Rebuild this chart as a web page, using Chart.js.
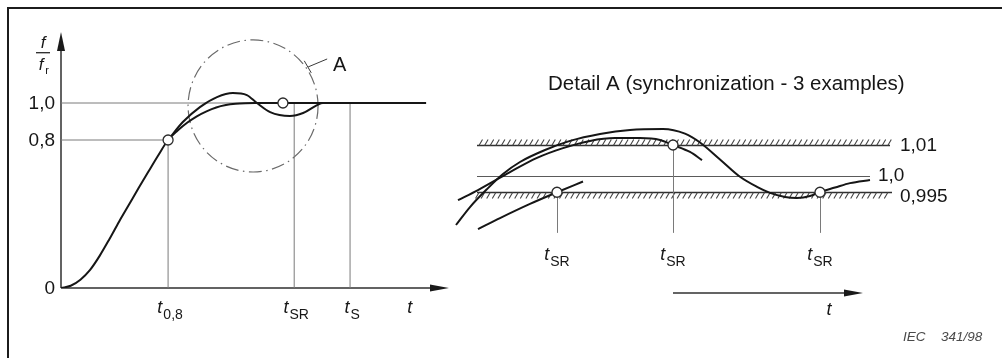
<!DOCTYPE html>
<html>
<head>
<meta charset="utf-8">
<script src="https://cdn.jsdelivr.net/npm/chart.js@4.4.1/dist/chart.umd.min.js"></script>
<style>
  html, body { margin: 0; padding: 0; background: #fff; }
  #wrap { position: relative; width: 1002px; height: 358px; overflow: hidden; }
  #wrap canvas { position: absolute; left: 0; top: 0; }
  #frame { position: absolute; left: 7px; top: 7px; width: 1100px; height: 400px;
           border-left: 2px solid #1c1c1c; border-top: 2px solid #1c1c1c; }
</style>
</head>
<body>
<div id="wrap">
  <div id="frame"></div>
  <canvas id="runup" width="1002" height="358" style="width:1002px;height:358px"></canvas>
  <canvas id="detail" width="1002" height="358" style="width:1002px;height:358px"></canvas>
</div>
<script>
// ---------- Run-up diagram: f/fr against time (time in arbitrary units) ----------
const riseTime = [0, 0.25, 0.5, 0.75, 1.0, 1.25, 1.5, 1.75, 2.0, 2.25, 2.5, 2.76, 3.0, 3.25, 3.5, 3.75, 4.0, 4.25, 4.5, 4.75, 5.0, 9.41];
const riseFreq = [0, 0.012, 0.045, 0.098, 0.175, 0.265, 0.36, 0.45, 0.54, 0.628, 0.715, 0.80, 0.850, 0.893, 0.928, 0.955, 0.976, 0.989, 0.996, 0.999, 1.0, 1.0];
const swingTime = [2.76, 3.14, 3.58, 4.02, 4.43, 4.79, 5.05, 5.39, 5.90, 6.24, 6.60, 6.75, 7.20];
const swingFreq = [0.80, 0.897, 0.978, 1.032, 1.054, 1.043, 1.0, 0.951, 0.930, 0.946, 0.989, 1.0, 1.0];
const freqTicks = [0, 0.8, 1.0];
const freqTickLabels = ['0', '0,8', '1,0'];
const timeMarks = [2.76, 6.01, 7.45];          // t0,8, tSR, tS
const timeMarkSubs = ['0,8', 'SR', 'S'];
const timeMarkTops = [0.8, 1.0, 1.0];
const runupPointTime = [2.76, 5.72];
const runupPointFreq = [0.8, 1.0];

// ---------- Detail A: three synchronization examples ----------
const exampleOneTime = [2.8, 5.0, 8.0, 10.7, 13.3];
const exampleOneFreq = [0.9833, 0.9868, 0.9913, 0.9950, 0.9984];
const exampleTwoTime = [0.8, 2.8, 6.0, 8.7, 11.3, 14.0, 16.5, 19.0, 21.0, 22.3, 24.0, 25.2];
const exampleTwoFreq = [0.9925, 0.9957, 1.0014, 1.0059, 1.0090, 1.0113, 1.0122, 1.0122, 1.0116, 1.0100, 1.0078, 1.0052];
const exampleThreeTime = [0.6, 2.0, 3.7, 5.3, 7.0, 9.5, 12.0, 15.0, 18.0, 21.3, 23.5, 25.0, 27.0, 29.0, 30.7, 32.0, 33.5, 34.7, 36.0, 37.0, 38.5, 40.0, 42.0];
const exampleThreeFreq = [0.9846, 0.9903, 0.9960, 1.0008, 1.0046, 1.0084, 1.0113, 1.0135, 1.0148, 1.0151, 1.0136, 1.0108, 1.0054, 0.9999, 0.9967, 0.9948, 0.9935, 0.9932, 0.9938, 0.9951, 0.9965, 0.9979, 0.9989];
const syncTime = [10.7, 22.3, 37.0];
const syncFreq = [0.995, 1.01, 0.995];
const bandLevels = [1.01, 1.0, 0.995];
const bandLabels = ['1,01', '1,0', '0,995'];
const bandEnds = [44.0, 42.0, 44.2];

const FONT = '"Liberation Sans", Arial, sans-serif';
const INK = '#161616';
const THIN = '#7a7a7a';

const pairs = (xs, ys) => xs.map((x, i) => ({ x, y: ys[i] }));

function curve(label, xs, ys) {
  return { label, data: pairs(xs, ys), borderColor: INK, borderWidth: 2, pointRadius: 0,
           cubicInterpolationMode: 'monotone', fill: false, order: 1 };
}
function guide(label, pts, color, width) {
  return { label, data: pts, borderColor: color || THIN, borderWidth: width || 1, pointRadius: 0,
           tension: 0, fill: false, order: 2 };
}
function points(label, xs, ys) {
  return { label, type: 'scatter', data: pairs(xs, ys), pointRadius: 5, pointHoverRadius: 5,
           pointBackgroundColor: '#fff', pointBorderColor: '#2b2b2b', pointBorderWidth: 1.3,
           showLine: false, order: 0 };
}

// italic t with an upright subscript, centred on cx
function tLabel(ctx, cx, baseY, sub, size) {
  const big = size || 18, small = Math.round(big * 0.78);
  ctx.save();
  ctx.fillStyle = INK;
  ctx.textBaseline = 'alphabetic';
  ctx.font = 'italic ' + big + 'px ' + FONT;
  const wt = ctx.measureText('t').width;
  ctx.font = small + 'px ' + FONT;
  const ws = sub ? ctx.measureText(sub).width : 0;
  const x0 = cx - (wt + ws + (sub ? 1 : 0)) / 2;
  ctx.font = 'italic ' + big + 'px ' + FONT;
  ctx.textAlign = 'left';
  ctx.fillText('t', x0, baseY);
  if (sub) {
    ctx.font = small + 'px ' + FONT;
    ctx.fillText(sub, x0 + wt + 1, baseY + 6);
  }
  ctx.restore();
}

function arrowHead(ctx, tipX, tipY, dirX, dirY, len, half) {
  const bx = tipX - dirX * len, by = tipY - dirY * len;
  ctx.beginPath();
  ctx.moveTo(tipX, tipY);
  ctx.lineTo(bx - dirY * half, by + dirX * half);
  ctx.lineTo(bx + dirY * half, by - dirX * half);
  ctx.closePath();
  ctx.fill();
}

// ---------- run-up chart ----------
const detailCircle = { t: 4.95, f: 0.984, rt: 1.675, rf: 0.357,
                       leader: [6.37, 1.195, 6.86, 1.238], tick: [6.27, 1.228, 6.45, 1.163],
                       label: [7.01, 1.205] };
const axisTitleFreq = 1.275;
const timeLabelFreq = -0.135;
const timeAxisLabel = 8.99;

const runupDecor = {
  id: 'runupDecor',
  beforeDatasetsDraw(chart) {
    const { ctx, scales: { x, y } } = chart;
    ctx.save();
    // axes
    ctx.strokeStyle = '#303030';
    ctx.fillStyle = '#1a1a1a';
    ctx.lineWidth = 1.5;
    ctx.beginPath();
    ctx.moveTo(x.getPixelForValue(0), y.getPixelForValue(0));
    ctx.lineTo(x.getPixelForValue(0), y.getPixelForValue(y.max) + 6);
    ctx.moveTo(x.getPixelForValue(0), y.getPixelForValue(0));
    ctx.lineTo(x.getPixelForValue(x.max) - 6, y.getPixelForValue(0));
    ctx.stroke();
    arrowHead(ctx, x.getPixelForValue(0), y.getPixelForValue(y.max), 0, -1, 19, 4);
    arrowHead(ctx, x.getPixelForValue(x.max), y.getPixelForValue(0), 1, 0, 19, 3.5);

    // detail circle A (dash-dot outline)
    const c = detailCircle;
    const cx = x.getPixelForValue(c.t), cy = y.getPixelForValue(c.f);
    const rx = x.getPixelForValue(c.t + c.rt) - cx, ry = cy - y.getPixelForValue(c.f + c.rf);
    ctx.strokeStyle = '#6a6a6a';
    ctx.lineWidth = 1.2;
    ctx.setLineDash([13, 4.5, 1.5, 4.5]);
    ctx.beginPath();
    ctx.ellipse(cx, cy, rx, ry, 0, 0, Math.PI * 2);
    ctx.stroke();
    ctx.setLineDash([]);
    // leader to the "A" label
    ctx.strokeStyle = '#3a3a3a';
    ctx.lineWidth = 1;
    ctx.beginPath();
    ctx.moveTo(x.getPixelForValue(c.leader[0]), y.getPixelForValue(c.leader[1]));
    ctx.lineTo(x.getPixelForValue(c.leader[2]), y.getPixelForValue(c.leader[3]));
    ctx.moveTo(x.getPixelForValue(c.tick[0]), y.getPixelForValue(c.tick[1]));
    ctx.lineTo(x.getPixelForValue(c.tick[2]), y.getPixelForValue(c.tick[3]));
    ctx.stroke();
    ctx.restore();
  },
  afterDatasetsDraw(chart) {
    const { ctx, scales: { x, y } } = chart;
    ctx.save();
    ctx.fillStyle = INK;
    ctx.font = '19px ' + FONT;
    ctx.textAlign = 'right';
    ctx.textBaseline = 'middle';
    freqTicks.forEach((v, i) => ctx.fillText(freqTickLabels[i], x.getPixelForValue(0) - 6, y.getPixelForValue(v) + 1));

    // axis title f / fr
    const fx = x.getPixelForValue(0) - 18;
    const fy = y.getPixelForValue(axisTitleFreq);
    ctx.textAlign = 'center';
    ctx.textBaseline = 'alphabetic';
    ctx.font = 'italic 17px ' + FONT;
    ctx.fillText('f', fx, fy - 4);
    ctx.fillRect(fx - 7, fy, 14, 1.2);
    ctx.fillText('f', fx - 2, fy + 18);
    ctx.font = '11px ' + FONT;
    ctx.fillText('r', fx + 4, fy + 22);

    // "A" label
    ctx.font = '20px ' + FONT;
    ctx.textAlign = 'left';
    ctx.textBaseline = 'middle';
    ctx.fillText('A', x.getPixelForValue(detailCircle.label[0]), y.getPixelForValue(detailCircle.label[1]));

    // time marks
    const base = y.getPixelForValue(timeLabelFreq);
    timeMarks.forEach((t, i) => tLabel(ctx, x.getPixelForValue(t) + 2, base, timeMarkSubs[i], 18));
    tLabel(ctx, x.getPixelForValue(timeAxisLabel), base, '', 18);
    ctx.restore();
  }
};

const runupData = [
  points('sync points', runupPointTime, runupPointFreq),
  curve('overshooting run-up', swingTime, swingFreq),
  curve('run-up', riseTime, riseFreq),
  guide('0,8 level', [{ x: 0, y: 0.8 }, { x: timeMarks[0], y: 0.8 }]),
  guide('1,0 level', [{ x: 0, y: 1.0 }, { x: 9.41, y: 1.0 }]),
  ...timeMarks.map((t, i) => guide('mark ' + timeMarkSubs[i], [{ x: t, y: 0 }, { x: t, y: timeMarkTops[i] }]))
];

new Chart(document.getElementById('runup'), {
  type: 'line',
  data: { datasets: runupData },
  options: {
    responsive: false,
    animation: false,
    events: [],
    layout: { padding: { left: 61, right: 553, top: 32, bottom: 70 } },
    scales: {
      x: { type: 'linear', min: 0, max: 10, display: false },
      y: { type: 'linear', min: 0, max: 256 / 185, display: false }
    },
    plugins: { legend: { display: false }, tooltip: { enabled: false }, title: { display: false } }
  },
  plugins: [runupDecor]
});

// ---------- detail chart ----------
const bandStart = 2.7;
const dropTo = 0.9821;
const syncLabelFreq = 0.9735;
const arrowSpan = [22.3, 41.3, 0.963];
const arrowLabel = [37.9, 0.9560];

function hatch(ctx, x0, x1, yPix, above) {
  ctx.beginPath();
  for (let px = x0 + 2; px < x1 - 1; px += 5.6) {
    if (above) { ctx.moveTo(px, yPix); ctx.lineTo(px + 3.5, yPix - 6); }
    else { ctx.moveTo(px - 3.5, yPix + 6); ctx.lineTo(px, yPix); }
  }
  ctx.stroke();
}

const detailDecor = {
  id: 'detailDecor',
  beforeDatasetsDraw(chart) {
    const { ctx, scales: { x, y } } = chart;
    ctx.save();
    const xs = x.getPixelForValue(bandStart);
    bandLevels.forEach((lvl, i) => {
      const yp = Math.round(y.getPixelForValue(lvl)) + 0.5;
      const xe = x.getPixelForValue(bandEnds[i]);
      ctx.strokeStyle = i === 1 ? '#5a5a5a' : '#303030';
      ctx.lineWidth = i === 1 ? 1 : 1.3;
      ctx.beginPath();
      ctx.moveTo(xs, yp);
      ctx.lineTo(xe, yp);
      ctx.stroke();
      if (i !== 1) {
        ctx.strokeStyle = '#444';
        ctx.lineWidth = 1.1;
        hatch(ctx, xs, xe, yp, i === 0);
      }
    });
    // drop lines from the synchronization points
    ctx.strokeStyle = THIN;
    ctx.lineWidth = 1;
    syncTime.forEach((t, i) => {
      const xp = Math.round(x.getPixelForValue(t)) + 0.5;
      ctx.beginPath();
      ctx.moveTo(xp, y.getPixelForValue(syncFreq[i]));
      ctx.lineTo(xp, y.getPixelForValue(dropTo));
      ctx.stroke();
    });
    // time arrow
    ctx.strokeStyle = '#303030';
    ctx.fillStyle = '#1a1a1a';
    ctx.lineWidth = 1.5;
    const ay = y.getPixelForValue(arrowSpan[2]);
    ctx.beginPath();
    ctx.moveTo(x.getPixelForValue(arrowSpan[0]), ay);
    ctx.lineTo(x.getPixelForValue(arrowSpan[1]) - 6, ay);
    ctx.stroke();
    arrowHead(ctx, x.getPixelForValue(arrowSpan[1]), ay, 1, 0, 19, 3.5);
    ctx.restore();
  },
  afterDatasetsDraw(chart) {
    const { ctx, scales: { x, y } } = chart;
    ctx.save();
    ctx.fillStyle = INK;
    ctx.textBaseline = 'middle';
    ctx.textAlign = 'left';
    ctx.font = '20.5px ' + FONT;
    ctx.fillText('Detail A (synchronization - 3 examples)', 548, 84);

    ctx.font = '19px ' + FONT;
    const labelX = [45.0, 42.8, 45.0];
    const labelDy = [1, -1, 5];
    bandLevels.forEach((lvl, i) => ctx.fillText(bandLabels[i], x.getPixelForValue(labelX[i]), y.getPixelForValue(lvl) + labelDy[i]));

    const base = y.getPixelForValue(syncLabelFreq);
    syncTime.forEach(t => tLabel(ctx, x.getPixelForValue(t), base, 'SR', 18));
    tLabel(ctx, x.getPixelForValue(arrowLabel[0]), y.getPixelForValue(arrowLabel[1]), '', 18);

    ctx.fillStyle = '#4a4a4a';
    ctx.font = 'italic 13.5px ' + FONT;
    ctx.textBaseline = 'alphabetic';
    ctx.fillText('IEC', 903, 341);
    ctx.fillText('341/98', 941, 341);
    ctx.restore();
  }
};

new Chart(document.getElementById('detail'), {
  type: 'line',
  data: {
    datasets: [
      points('synchronization', syncTime, syncFreq),
      curve('example 1', exampleOneTime, exampleOneFreq),
      curve('example 2', exampleTwoTime, exampleTwoFreq),
      curve('example 3', exampleThreeTime, exampleThreeFreq)
    ]
  },
  options: {
    responsive: false,
    animation: false,
    events: [],
    layout: { padding: { left: 450, right: 102, top: 97.75, bottom: 55.5 } },
    scales: {
      x: { type: 'linear', min: 0, max: 45, display: false },
      y: { type: 'linear', min: 0.96, max: 1.025, display: false }
    },
    plugins: { legend: { display: false }, tooltip: { enabled: false }, title: { display: false } }
  },
  plugins: [detailDecor]
});
</script>
</body>
</html>
